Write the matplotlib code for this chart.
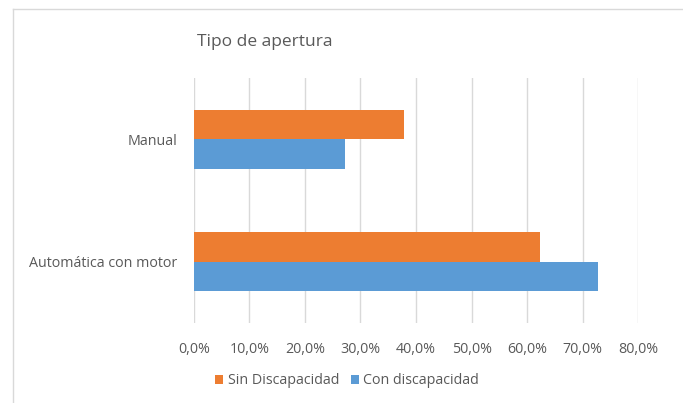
import matplotlib
matplotlib.use('Agg')
import matplotlib.pyplot as plt
from matplotlib.ticker import FuncFormatter
from matplotlib.lines import Line2D
import numpy as np

plt.rcParams['font.family'] = ['Open Sans', 'DejaVu Sans']

# data
categorias = ['Automática con motor', 'Manual']
sin_discapacidad = [62.2, 37.8]
con_discapacidad = [72.8, 27.3]
ticks = [0, 10, 20, 30, 40, 50, 60, 70, 80]

naranja = '#ED7D31'
azul = '#5B9BD5'
gris = '#595959'

fig = plt.figure(figsize=(6.83, 4.03), dpi=100)
ax = fig.add_axes([0.2836, 0.1985, 0.6512, 0.608])

y = np.arange(len(categorias))
h = 0.24
ax.barh(y + h / 2, sin_discapacidad, height=h, color=naranja, label='Sin Discapacidad', zorder=2)
ax.barh(y - h / 2, con_discapacidad, height=h, color=azul, label='Con discapacidad', zorder=2)

ax.set_xlim(0, 80)
ax.set_ylim(-0.5, 1.5)
ax.set_xticks(ticks)
ax.xaxis.set_major_formatter(FuncFormatter(lambda v, p: f'{v:.1f}%'.replace('.', ',')))
ax.set_yticks(y)
ax.set_yticklabels(categorias)
ax.grid(axis='x', color='#D9D9D9', linewidth=1, zorder=0)
for s in ax.spines.values():
    s.set_visible(False)
ax.tick_params(axis='both', length=0, colors=gris, labelsize=10.3)
ax.tick_params(axis='x', pad=14)
ax.tick_params(axis='y', pad=12)

fig.text(265 / 683, 1 - 42 / 403, 'Tipo de apertura', ha='center', va='center',
         fontsize=12.5, color=gris)

fig.legend(loc='center', bbox_to_anchor=(347 / 683, 1 - 381 / 403), ncol=2,
           frameon=False, fontsize=10.3, labelcolor=gris, handlelength=0.6,
           handleheight=0.6, handletextpad=0.3, columnspacing=0.8)

# chart frame (top and left edges visible)
fig.add_artist(Line2D([13 / 683, 1], [1 - 9 / 403, 1 - 9 / 403], color='#D9D9D9', lw=1))
fig.add_artist(Line2D([13 / 683, 13 / 683], [0, 1 - 9 / 403], color='#D9D9D9', lw=1))

fig.savefig('out.png', dpi=100)
